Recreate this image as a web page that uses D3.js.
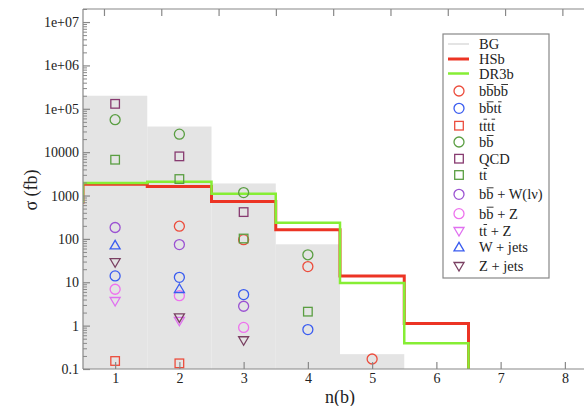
<!DOCTYPE html>
<html>
<head>
<meta charset="utf-8">
<script src="https://cdn.jsdelivr.net/npm/d3@7"></script>
<style>
  body { margin: 0; background: #fff; }
  svg text { font-family: "Liberation Serif", "Times New Roman", Tinos, "DejaVu Serif", serif; fill: #222; }
</style>
</head>
<body>
<div id="chart"></div>
<script>
// bins (n(b) values)
const bins = [0, 1, 2, 3, 4, 5, 6, 7];
const bgValues = [0, 2.0e5, 3.9e4, 1900, 75, 0.22, 0, 0];
const hsbValues = [700, 1820, 1610, 727, 163, 14, 1.12, 0.01];
const dr3bValues = [710, 1950, 2090, 1100, 235, 9.6, 0.39, 0.01];

// background processes: values per n(b) = 1..5 (null = not shown)
const nb = [1, 2, 3, 4, 5];
const bbbb = [null, 196, 96, 23, 0.17];
const bbtt = [14, 13, 5.2, 0.81, null];
const tttt = [0.153, 0.135, null, null, null];
const bb = [5.6e4, 2.6e4, 1170, 43, null];
const qcd = [1.3e5, 8000, 415, null, null];
const tt = [6700, 2400, 102, 2.1, null];
const bbW = [183, 74, 2.8, null, null];
const bbZ = [6.9, 4.9, 0.91, null, null];
const ttZ = [3.7, 1.29, null, null, null];
const wjets = [71, 7, null, null, null];
const zjets = [29, 1.55, 0.46, null, null];

const yTicks = [0.1, 1, 10, 100, 1000, 10000, 1e5, 1e6, 1e7];
const yTickLabels = ["0.1", "1", "10", "100", "1000", "10000", "1e+05", "1e+06", "1e+07"];
const xTicks = [1, 2, 3, 4, 5, 6, 7, 8];

const series = [
  {name: "b~bb~b", values: bbbb, shape: "circle", color: "#ec4c3c"},
  {name: "b~bt~t", values: bbtt, shape: "circle", color: "#3a5cf0"},
  {name: "t~tt~t", values: tttt, shape: "square", color: "#ec4c3c"},
  {name: "b~b", values: bb, shape: "circle", color: "#5a9e42"},
  {name: "QCD", values: qcd, shape: "square", color: "#873a70"},
  {name: "t~t", values: tt, shape: "square", color: "#5a9e42"},
  {name: "b~b + W(lν)", values: bbW, shape: "circle", color: "#9b52d2"},
  {name: "b~b + Z", values: bbZ, shape: "circle", color: "#ee72ee"},
  {name: "t~t + Z", values: ttZ, shape: "down", color: "#e070f0"},
  {name: "W + jets", values: wjets, shape: "up", color: "#3a5cf0"},
  {name: "Z + jets", values: zjets, shape: "down", color: "#7a4062"}
];

const width = 584, height = 406;
const pLeft = 83, pRight = 597, pTop = 9, pBottom = 369;
const serif = "'Liberation Serif', 'Times New Roman', Tinos, 'DejaVu Serif', serif";

const svg = d3.select("#chart").append("svg")
  .attr("width", width).attr("height", height)
  .attr("font-family", serif);

const x = d3.scaleLinear().domain([0.5, 8.5]).range([pLeft, pRight]);
const y = d3.scaleLog().domain([0.1, 2e7]).range([pBottom, pTop]).clamp(true);
const xTop = d3.scaleLinear().domain([0.634, 9.36]).range([pLeft, 583]);

svg.append("clipPath").attr("id", "clip")
  .append("rect").attr("x", pLeft).attr("y", pTop)
  .attr("width", width - pLeft).attr("height", pBottom - pTop);

const plot = svg.append("g").attr("clip-path", "url(#clip)");

// BG histogram
plot.selectAll("rect.bg")
  .data(bins.filter((d, i) => bgValues[i] > 0))
  .enter().append("rect")
  .attr("class", "bg")
  .attr("x", d => x(d - 0.5))
  .attr("width", x(1.5) - x(0.5))
  .attr("y", d => y(bgValues[d]))
  .attr("height", d => pBottom - y(bgValues[d]))
  .attr("fill", "#e4e4e4");

// step lines: horizontal over each bin, last bin only gives the drop
const stepLine = d3.line()
  .x(d => x(d[0] - 0.5))
  .y(d => y(d[1]))
  .curve(d3.curveStepAfter);

plot.append("path").datum(bins.map((b, i) => [b, hsbValues[i]]))
  .attr("d", stepLine).attr("fill", "none")
  .attr("stroke", "#ec3424").attr("stroke-width", 3);
plot.append("path").datum(bins.map((b, i) => [b, dr3bValues[i]]))
  .attr("d", stepLine).attr("fill", "none")
  .attr("stroke", "#86ee34").attr("stroke-width", 2.5);

// markers
function marker(g, shape, color, cx, cy) {
  if (shape === "circle") {
    g.append("circle").attr("cx", cx).attr("cy", cy).attr("r", 5)
      .attr("fill", "none").attr("stroke", color).attr("stroke-width", 1.3);
  } else if (shape === "square") {
    g.append("rect").attr("x", cx - 4.3).attr("y", cy - 4.3)
      .attr("width", 8.6).attr("height", 8.6)
      .attr("fill", "none").attr("stroke", color).attr("stroke-width", 1.3);
  } else {
    const s = shape === "up" ? -1 : 1;
    const pts = [[cx - 5, cy - s * 3.5], [cx + 5, cy - s * 3.5], [cx, cy + s * 5]];
    g.append("polygon").attr("points", pts.map(p => p.join(",")).join(" "))
      .attr("fill", "none").attr("stroke", color).attr("stroke-width", 1.3);
  }
}

series.forEach(s => {
  s.values.forEach((v, i) => {
    if (v == null) return;
    marker(plot, s.shape, s.color, x(nb[i]), y(v));
  });
});

// axes frame
const axisColor = "#888";
svg.append("line").attr("x1", pLeft).attr("x2", width).attr("y1", pBottom).attr("y2", pBottom)
  .attr("stroke", axisColor).attr("stroke-width", 1.2);
svg.append("line").attr("x1", pLeft).attr("x2", width).attr("y1", pTop).attr("y2", pTop)
  .attr("stroke", axisColor).attr("stroke-width", 1.2);
svg.append("line").attr("x1", pLeft).attr("x2", pLeft).attr("y1", pTop).attr("y2", pBottom)
  .attr("stroke", axisColor).attr("stroke-width", 1.2);

// x axis (ticks inside)
const xAxis = svg.append("g").attr("transform", `translate(0,${pBottom})`)
  .call(d3.axisBottom(x).tickValues(xTicks).tickSizeInner(-7).tickSizeOuter(0).tickPadding(4));
xAxis.attr("font-family", serif).attr("font-size", 14);
xAxis.select(".domain").remove();
xAxis.selectAll(".tick line").attr("stroke", axisColor).attr("stroke-width", 1.2);

// top axis ticks
const xTopAxis = svg.append("g").attr("transform", `translate(0,${pTop})`)
  .call(d3.axisTop(xTop).tickValues(d3.range(1, 10)).tickSizeInner(-7).tickSizeOuter(0).tickFormat(""));
xTopAxis.select(".domain").remove();
xTopAxis.selectAll(".tick line").attr("stroke", axisColor).attr("stroke-width", 1.2);

// y axis minor ticks
const minor = [];
for (let e = -1; e <= 7; e++) {
  for (let m = 2; m <= 9; m++) {
    const v = m * Math.pow(10, e);
    if (v <= 2e7) minor.push(v);
  }
}
const yMinor = svg.append("g").attr("transform", `translate(${pLeft},0)`)
  .call(d3.axisRight(y).tickValues(minor).tickSize(4).tickFormat(""));
yMinor.select(".domain").remove();
yMinor.selectAll(".tick line").attr("stroke", axisColor);

const yAxis = svg.append("g").attr("transform", `translate(${pLeft},0)`)
  .call(d3.axisLeft(y).tickValues(yTicks).tickSizeInner(-7).tickSizeOuter(0).tickPadding(4)
    .tickFormat((d, i) => yTickLabels[i]));
yAxis.attr("font-family", serif).attr("font-size", 14);
yAxis.select(".domain").remove();
yAxis.selectAll(".tick line").attr("stroke", axisColor).attr("stroke-width", 1.2);

// axis titles
svg.append("text").attr("x", 340).attr("y", 403)
  .attr("text-anchor", "middle").style("font-size", "18px").text("n(b)");
svg.append("text").attr("transform", "translate(37,190) rotate(-90)")
  .attr("text-anchor", "middle").style("font-size", "18px").text("σ (fb)");

// legend
const lg = svg.append("g");
lg.append("rect").attr("x", 443).attr("y", 34).attr("width", 106).attr("height", 244)
  .attr("fill", "#fff").attr("stroke", "#888").attr("stroke-width", 1.2);

function addLabel(g, str, lx, ly) {
  const t = g.append("text").attr("x", lx).attr("y", ly + 5)
    .style("font-size", "14.5px");
  let plain = "";
  const over = [];
  for (let i = 0; i < str.length; i++) {
    if (str[i] === "~") { over.push(plain.length); i++; }
    plain += str[i];
  }
  t.text(plain);
  const node = t.node();
  over.forEach(ci => {
    const a = node.getStartPositionOfChar(ci).x;
    const b = node.getEndPositionOfChar(ci).x;
    g.append("line").attr("x1", a + 0.5).attr("x2", b).attr("y1", ly - 6.5).attr("y2", ly - 6.5)
      .attr("stroke", "#222").attr("stroke-width", 0.9);
  });
}

const lineEntries = [
  {name: "BG", color: "#e4e4e4", w: 2, y: 44},
  {name: "HSb", color: "#ec3424", w: 3, y: 59},
  {name: "DR3b", color: "#86ee34", w: 2.5, y: 73.5}
];
lineEntries.forEach(e => {
  lg.append("line").attr("x1", 448).attr("x2", 469).attr("y1", e.y).attr("y2", e.y)
    .attr("stroke", e.color).attr("stroke-width", e.w);
  addLabel(lg, e.name, 479, e.y);
});
const markerY = [91, 108.3, 125.7, 142, 158.7, 175, 194.3, 213.7, 231, 247.3, 266];
series.forEach((s, i) => {
  marker(lg, s.shape, s.color, 459, markerY[i]);
  addLabel(lg, s.name, 479, markerY[i]);
});
</script>
</body>
</html>
